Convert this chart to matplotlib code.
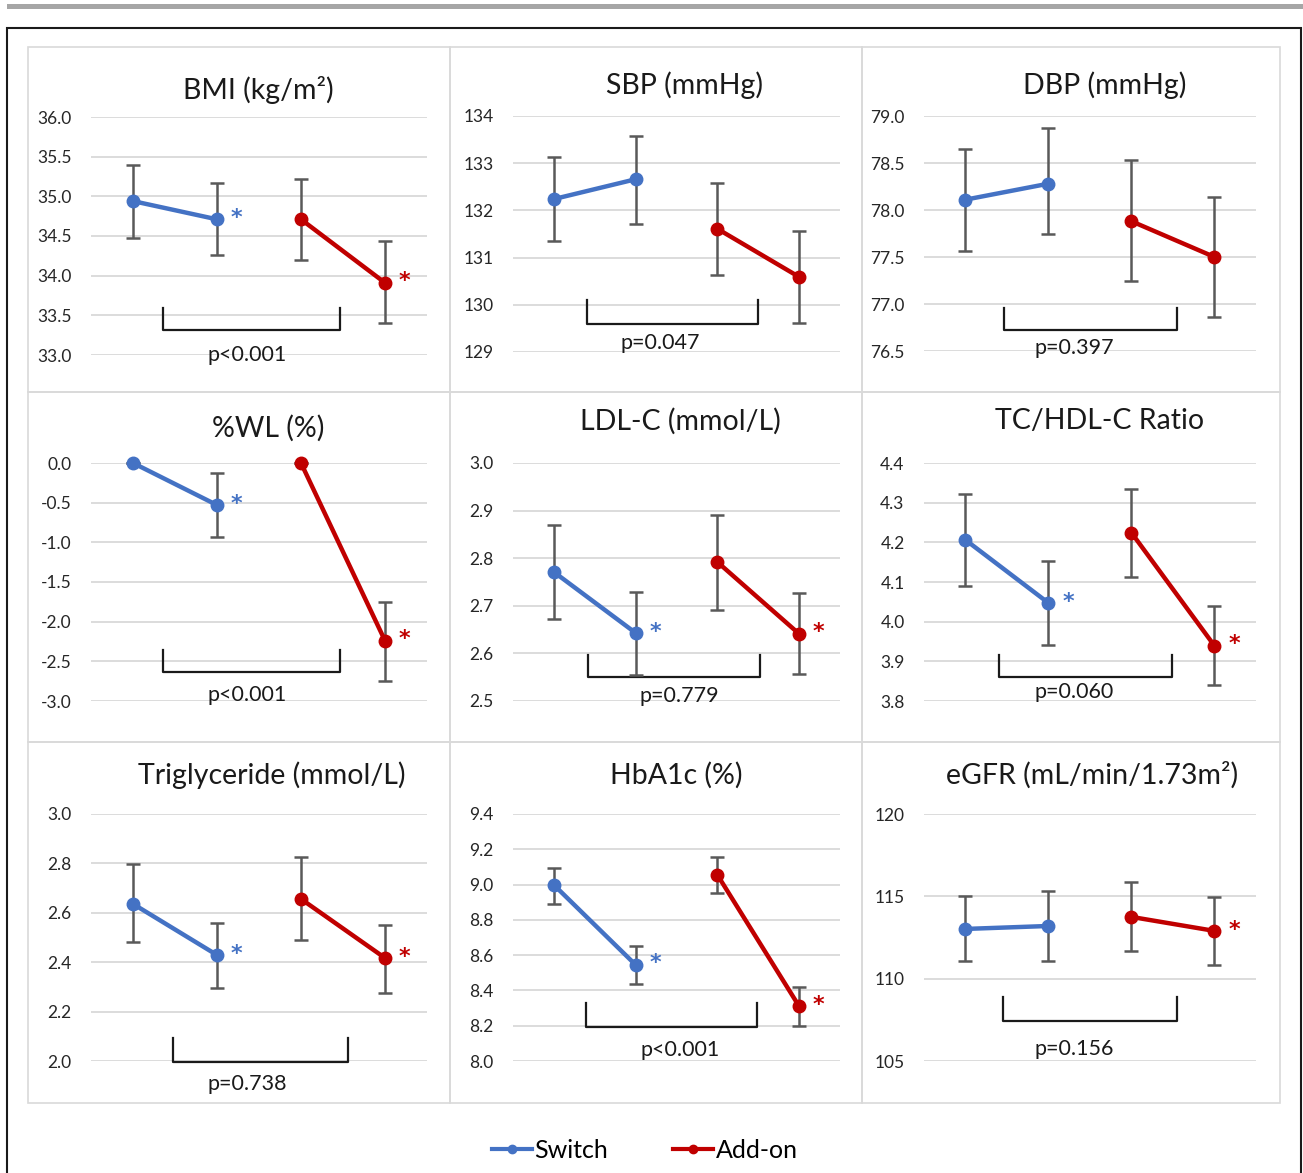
import matplotlib
matplotlib.use("Agg")
import matplotlib.pyplot as plt
from matplotlib.lines import Line2D
from matplotlib.patches import Rectangle
import numpy as np

plt.rcParams['font.family'] = ['Lato', 'DejaVu Sans']

BLUE = '#4472C4'
RED = '#C00000'
ERR = '#595959'
GRID = '#D9D9D9'

# ---- data: mean, lower, upper for [Switch pre, Switch post, Add-on pre, Add-on post]
titles = ['BMI (kg/m²)', 'SBP (mmHg)', 'DBP (mmHg)',
          '%WL (%)', 'LDL-C (mmol/L)', 'TC/HDL-C Ratio',
          'Triglyceride (mmol/L)', 'HbA1c (%)', 'eGFR (mL/min/1.73m²)']

bmi_mean = [34.94, 34.71, 34.71, 33.91]
bmi_lo = [34.47, 34.26, 34.20, 33.40]
bmi_hi = [35.39, 35.17, 35.22, 34.44]

sbp_mean = [132.24, 132.66, 131.61, 130.59]
sbp_lo = [131.35, 131.72, 130.63, 129.61]
sbp_hi = [133.13, 133.58, 132.58, 131.56]

dbp_mean = [78.11, 78.28, 77.88, 77.50]
dbp_lo = [77.56, 77.75, 77.24, 76.86]
dbp_hi = [78.65, 78.87, 78.53, 78.14]

wl_mean = [0.0, -0.53, 0.0, -2.24]
wl_lo = [0.0, -0.93, 0.0, -2.75]
wl_hi = [0.0, -0.13, 0.0, -1.75]

ldl_mean = [2.771, 2.643, 2.792, 2.641]
ldl_lo = [2.672, 2.555, 2.691, 2.557]
ldl_hi = [2.870, 2.729, 2.890, 2.727]

tc_mean = [4.206, 4.047, 4.224, 3.939]
tc_lo = [4.090, 3.941, 4.113, 3.840]
tc_hi = [4.322, 4.153, 4.334, 4.039]

tg_mean = [2.636, 2.429, 2.656, 2.417]
tg_lo = [2.482, 2.296, 2.490, 2.275]
tg_hi = [2.798, 2.559, 2.826, 2.551]

hba_mean = [8.998, 8.545, 9.055, 8.310]
hba_lo = [8.890, 8.435, 8.950, 8.200]
hba_hi = [9.094, 8.650, 9.156, 8.420]

egfr_mean = [113.02, 113.20, 113.75, 112.90]
egfr_lo = [111.08, 111.10, 111.70, 110.80]
egfr_hi = [115.03, 115.30, 115.85, 114.97]

means = [bmi_mean, sbp_mean, dbp_mean, wl_mean, ldl_mean, tc_mean, tg_mean, hba_mean, egfr_mean]
lows = [bmi_lo, sbp_lo, dbp_lo, wl_lo, ldl_lo, tc_lo, tg_lo, hba_lo, egfr_lo]
highs = [bmi_hi, sbp_hi, dbp_hi, wl_hi, ldl_hi, tc_hi, tg_hi, hba_hi, egfr_hi]

# significance within group: (Switch, Add-on)
signif = [(1, 1), (0, 0), (0, 0), (1, 1), (1, 1), (1, 1), (1, 1), (1, 1), (0, 1)]
p_values = ['p<0.001', 'p=0.047', 'p=0.397', 'p<0.001', 'p=0.779',
            'p=0.060', 'p=0.738', 'p<0.001', 'p=0.156']

y_ticks = [np.arange(33.0, 36.01, 0.5), np.arange(129, 134.1, 1), np.arange(76.5, 79.01, 0.5),
           np.arange(-3.0, 0.01, 0.5), np.arange(2.5, 3.01, 0.1), np.arange(3.8, 4.41, 0.1),
           np.arange(2.0, 3.01, 0.2), np.arange(8.0, 9.41, 0.2), np.arange(105, 120.1, 5)]
y_fmt = ['%.1f', '%d', '%.1f', '%.1f', '%.1f', '%.1f', '%.1f', '%.1f', '%d']

# ---- layout (pixels)
W, H = 1303, 1173
col_x = [(91, 427), (513, 840), (924, 1256)]
row_y = [[(117, 355), (116, 352), (116, 351)],
         [(463, 701), (463, 701), (463, 701)],
         [(814, 1061), (814, 1061), (814, 1061)]]
title_pos = [(258, 90), (685, 85), (1105, 85),
             (268, 428), (680, 421), (1100, 421),
             (272, 775), (676, 775), (1092, 775)]
# bracket: x0, x1 (category units), ytop, ybot (data), p-text x, y
brackets = [(0.36, 2.46, 33.59, 33.31, 1.36, 33.0),
            (0.41, 2.50, 130.1, 129.6, 1.30, 129.2),
            (0.46, 2.55, 76.96, 76.72, 1.31, 76.53),
            (0.36, 2.46, -2.36, -2.64, 1.36, -2.93),
            (0.42, 2.52, 2.597, 2.550, 1.54, 2.51),
            (0.40, 2.49, 3.916, 3.860, 1.31, 3.823),
            (0.48, 2.56, 2.093, 1.996, 1.36, 1.907),
            (0.39, 2.49, 8.33, 8.19, 1.54, 8.06),
            (0.45, 2.55, 108.89, 107.43, 1.31, 105.73)]

fig = plt.figure(figsize=(W / 100, H / 100), dpi=100)

# grey bar on top and outer frame
fig.add_artist(Rectangle((7 / W, 1 - 9 / H), (1303 - 7) / W, 5 / H, transform=fig.transFigure,
                         color='#A6A6A6', lw=0))
fig.add_artist(Rectangle((7 / W, -0.01), (1301 - 7) / W, 1 - 28 / H + 0.01, transform=fig.transFigure,
                         fill=False, ec='#1a1a1a', lw=1.5))

# panel boxes
box_cols = [28, 450, 862, 1280]
box_rows = [47, 392, 742, 1103]
for r in range(3):
    for c in range(3):
        x0, x1 = box_cols[c], box_cols[c + 1]
        y0, y1 = box_rows[r], box_rows[r + 1]
        fig.add_artist(Rectangle((x0 / W, 1 - y1 / H), (x1 - x0) / W, (y1 - y0) / H,
                                 transform=fig.transFigure, fill=False, ec=GRID, lw=1.2))

x = np.arange(4)
for i in range(9):
    r, c = divmod(i, 3)
    px0, px1 = col_x[c]
    py0, py1 = row_y[r][c]
    ax = fig.add_axes([px0 / W, 1 - py1 / H, (px1 - px0) / W, (py1 - py0) / H])
    ax.set_xlim(-0.5, 3.5)
    ticks = y_ticks[i]
    ax.set_ylim(ticks[0], ticks[-1])
    ax.set_yticks(ticks)
    ax.set_yticklabels([y_fmt[i] % t for t in ticks], fontsize=12.5, color='#262626')
    ax.tick_params(axis='y', length=0, pad=14)
    ax.set_xticks([])
    for s in ax.spines.values():
        s.set_visible(False)
    ax.grid(axis='y', color=GRID, lw=1.3)
    ax.set_axisbelow(True)

    m = np.array(means[i])
    lo = np.array(lows[i])
    hi = np.array(highs[i])
    err = np.vstack([m - lo, hi - m])
    for g, col in enumerate([BLUE, RED]):
        idx = slice(2 * g, 2 * g + 2)
        ax.errorbar(x[idx], m[idx], yerr=err[:, idx], fmt='none', ecolor=ERR,
                    elinewidth=1.8, capsize=5, capthick=1.8, zorder=2, clip_on=False)
        ax.plot(x[idx], m[idx], color=col, lw=3.2, marker='o', ms=9, zorder=3, clip_on=False)
        if signif[i][g]:
            ax.annotate('*', (x[2 * g + 1], m[2 * g + 1]), xytext=(14, 1),
                        textcoords='offset points', color=col, fontsize=16,
                        fontweight='bold', ha='center', va='center', family='DejaVu Sans')

    bx0, bx1, byt, byb, tx, ty = brackets[i]
    ax.plot([bx0, bx0, bx1, bx1], [byt, byb, byb, byt], color='#1a1a1a', lw=1.6,
            clip_on=False, zorder=1)
    ax.text(tx, ty, p_values[i], ha='center', va='center', fontsize=15.5, color='#1a1a1a')

    tx_px, ty_px = title_pos[i]
    fig.text(tx_px / W, 1 - ty_px / H, titles[i], ha='center', va='center',
             fontsize=20.5, color='#1a1a1a')

handles = [Line2D([], [], color=BLUE, lw=3, marker='o', ms=6),
           Line2D([], [], color=RED, lw=3, marker='o', ms=6)]
fig.legend(handles, ['Switch', 'Add-on'], loc='center', bbox_to_anchor=(645 / W, 1 - 1150 / H),
           ncol=2, frameon=False, fontsize=18, handlelength=1.6, handletextpad=0.1,
           columnspacing=2.6)

fig.savefig('out.png', dpi=100)
